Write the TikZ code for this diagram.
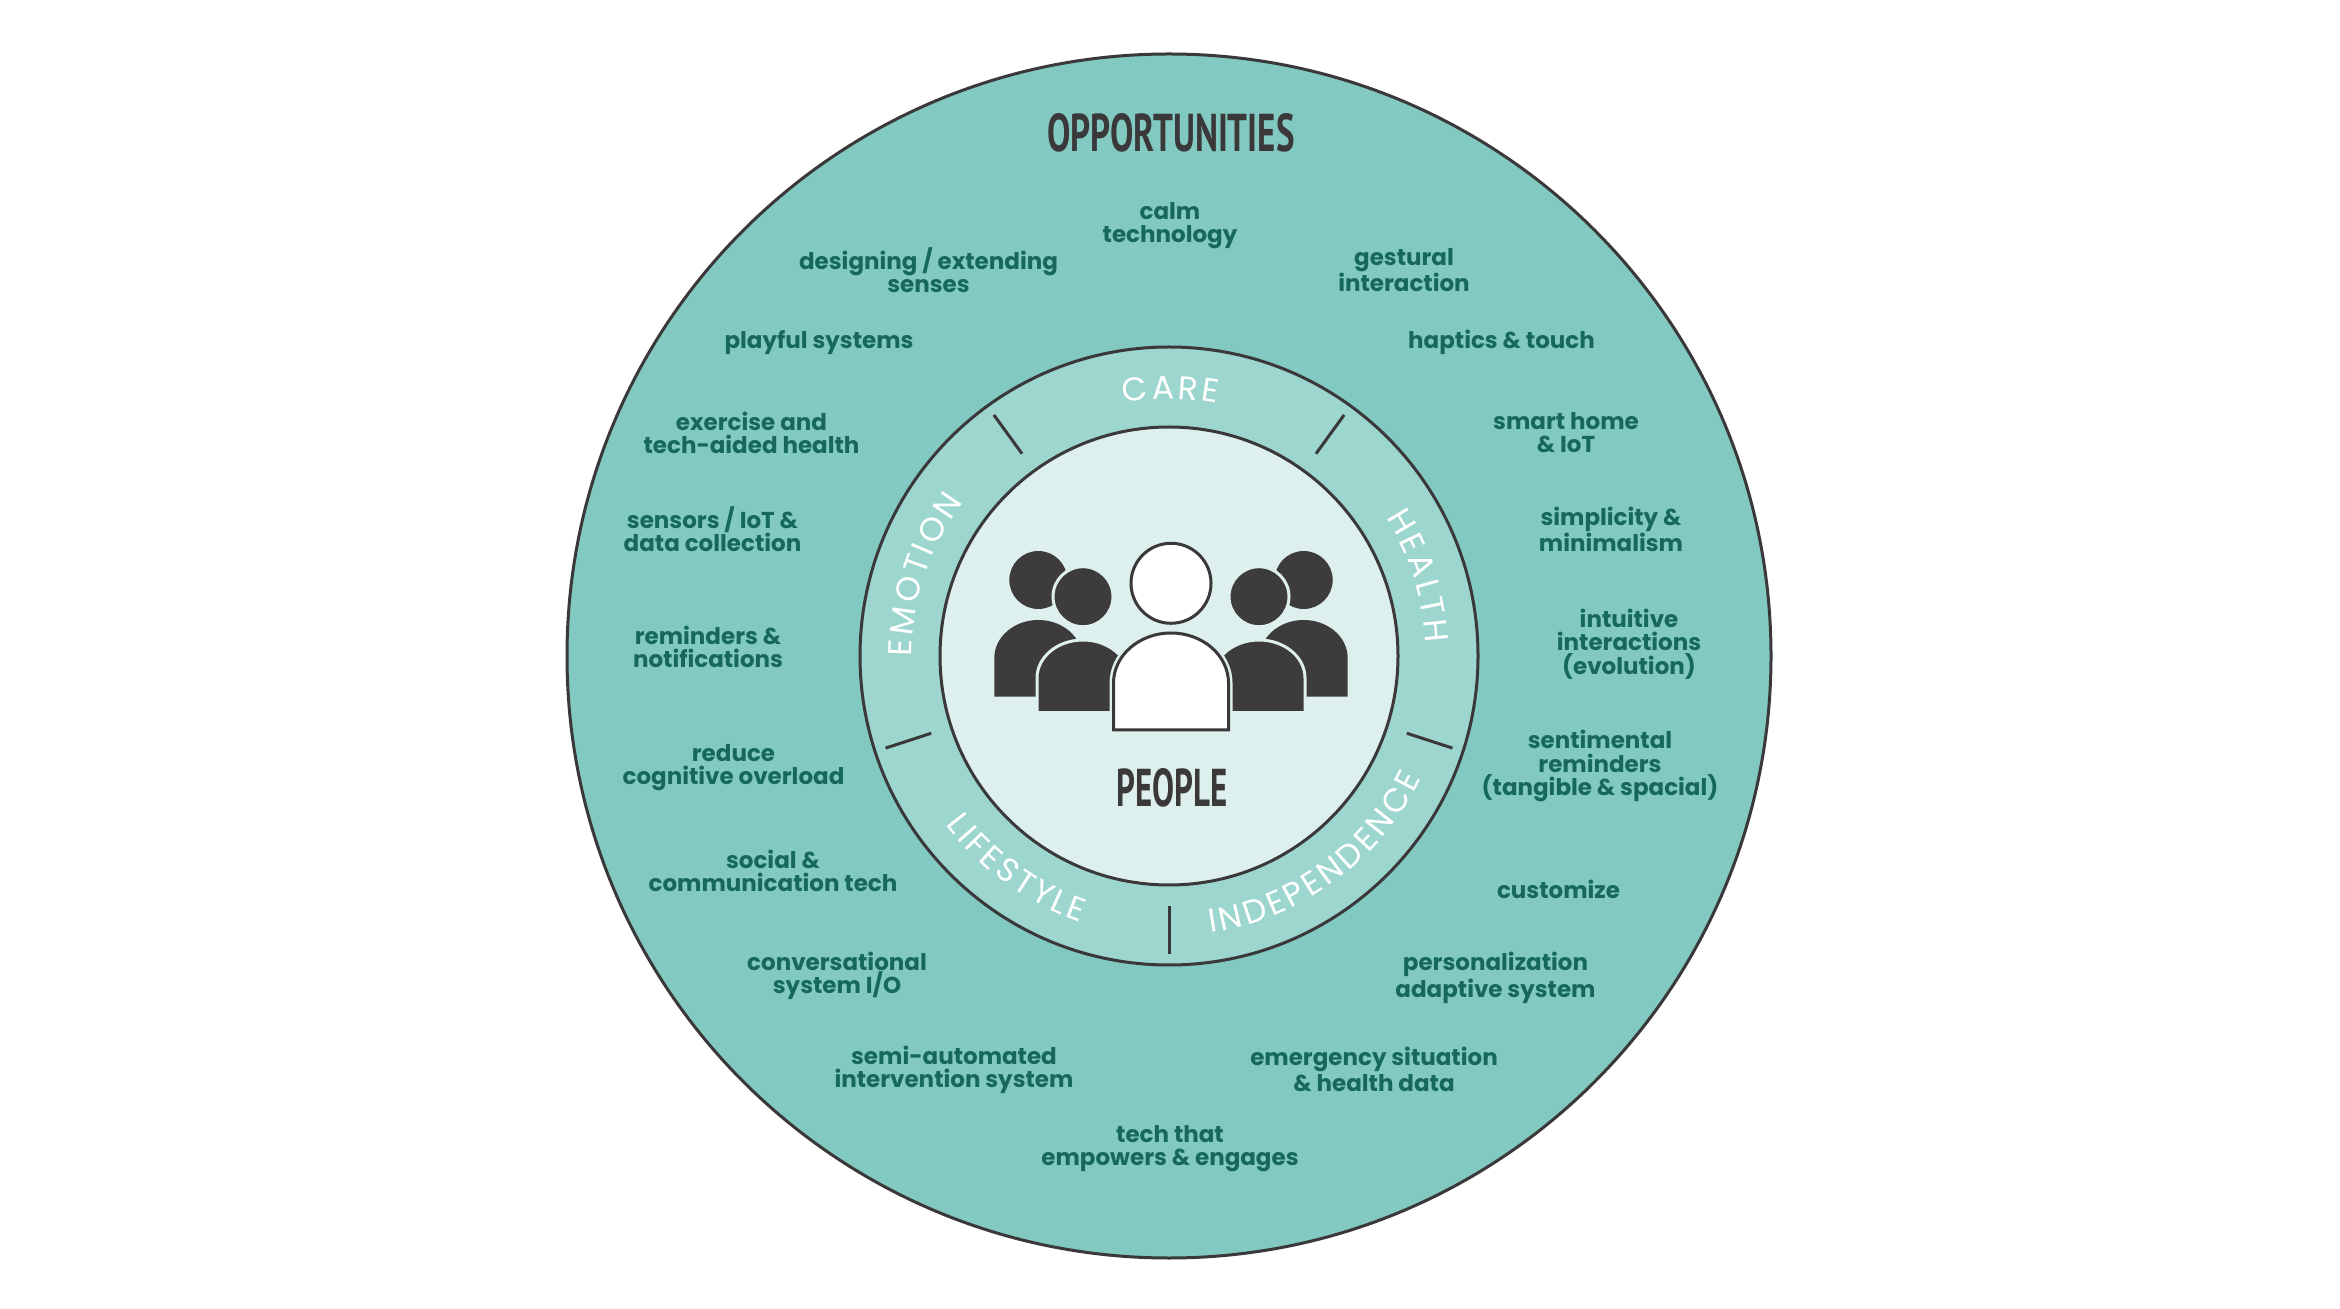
\documentclass[tikz,border=0pt]{standalone}
\usepackage{fontspec}
\usepackage{graphicx}
\usetikzlibrary{decorations.text}
\newfontfamily\labfont{Poppins}
\newfontfamily\ringfont{Poppins}
\newfontfamily\headfont{PT Sans}
\definecolor{outerfill}{RGB}{129,201,193}
\definecolor{ringfill}{RGB}{157,214,207}
\definecolor{innerfill}{RGB}{221,240,237}
\definecolor{linec}{RGB}{58,56,57}
\definecolor{labc}{RGB}{22,105,90}
\definecolor{figdark}{RGB}{61,59,60}
\newcommand\ringfmt{\ringfont\fontsize{16.5}{16.5}\selectfont\kern1.6pt}
\newcommand\bodypath[5]{(#1-#2,#5) -- (#1-#2,#3-#4) arc[start angle=180,end angle=0,x radius=#2,y radius=#4] -- (#1+#2,#5) -- cycle}
\begin{document}
\begin{tikzpicture}[x=0.5pt,y=0.5pt,
  lab/.style={font=\labfont\bfseries\fontsize{11.5}{11.6}\selectfont, text=labc, align=center, inner sep=0pt},
  ringtext/.style={decorate, decoration={text along path, text align=center, text color=white}},
  sepline/.style={draw=linec, line width=1.5pt},
  circ/.style={draw=linec, line width=1.5pt},
]
\useasboundingbox (0,0) rectangle (2340,1308);
\fill[white] (0,0) rectangle (2340,1308);
\begin{scope}[shift={(1169,652)}]
  \filldraw[circ, fill=outerfill] (0,0) circle[radius=602];
  \filldraw[circ, fill=ringfill] (0,0) circle[radius=309];
  \filldraw[circ, fill=innerfill] (0,0) circle[radius=229];
  \foreach \a in {54,126,198,270,342} \draw[sepline] (\a:250) -- (\a:298);
  % ring labels
  \path[ringtext, decoration={text={|\ringfmt|CARE}}] (126:257) arc[start angle=126, end angle=54, radius=257];
  \path[ringtext, decoration={text={|\ringfmt|HEALTH}}] (54:257) arc[start angle=54, end angle=-18, radius=257];
  \path[ringtext, decoration={text={|\ringfmt|EMOTION}}] (198:257) arc[start angle=198, end angle=126, radius=257];
  \path[ringtext, decoration={text={|\ringfmt|LIFESTYLE}}] (198:280) arc[start angle=198, end angle=270, radius=280];
  \path[ringtext, decoration={text={|\ringfmt|INDEPENDENCE}}] (270:280) arc[start angle=270, end angle=342, radius=280];
  % people icon
  \begin{scope}[shift={(2,0)}]
    \foreach \s in {-1,1} {
      \fill[figdark] \bodypath{\s*132.7}{44}{36}{38}{-40.7};
      \fill[figdark] (\s*132.7,76) circle[radius=29];
    }
    \foreach \s in {-1,1} {
      \filldraw[fill=figdark, draw=innerfill, line width=1.5pt] \bodypath{\s*88}{46}{16}{38}{-56.7};
      \filldraw[fill=figdark, draw=innerfill, line width=1.5pt] (\s*88,59.3) circle[radius=30];
    }
    \draw[innerfill, line width=4pt] \bodypath{0}{57.5}{23}{50}{-74};
    \filldraw[fill=white, draw=linec, line width=1.5pt] \bodypath{0}{57.5}{23}{50}{-74};
    \draw[innerfill, line width=4pt] (0,72.7) circle[radius=40];
    \filldraw[fill=white, draw=linec, line width=1.5pt] (0,72.7) circle[radius=40];
  \end{scope}
  \node[inner sep=0pt, text=linec] (people) at (3,-131.5) {\resizebox{55.5pt}{19pt}{\headfont\bfseries PEOPLE}};
  \node[inner sep=0pt, text=linec] (opp) at (2,523) {\resizebox{123.5pt}{19pt}{\headfont\bfseries OPPORTUNITIES}};
  % outer labels
  \node[lab] (calm) at (1,430) {calm\\technology};
  \node[lab] (design) at (-240.5,386) {designing / extending\\senses};
  \node[lab] (gest) at (235,386) {gestural\\interaction};
  \node[lab] (play) at (-350,313.5) {playful systems};
  \node[lab] (hapt) at (332.5,313.5) {haptics \& touch};
  \node[lab] (exer) at (-417.5,223) {exercise and\\tech-aided health};
  \node[lab] (smart) at (397,223) {smart home\\\& IoT};
  \node[lab] (sens) at (-456.5,126.5) {sensors / IoT \&\\data collection};
  \node[lab] (simp) at (442,126.5) {simplicity \&\\minimalism};
  \node[lab] (remi) at (-461,9.5) {reminders \&\\notifications};
  \node[lab] (intu) at (460,12) {intuitive\\interactions\\(evolution)};
  \node[lab] (redu) at (-435.5,-112) {reduce\\cognitive overload};
  \node[lab] (sent) at (431,-110) {sentimental\\reminders\\(tangible \& spacial)};
  \node[lab] (soci) at (-396,-215) {social \&\\communication tech};
  \node[lab] (cust) at (389.5,-233.5) {customize};
  \node[lab] (conv) at (-332,-320) {conversational\\system I/O};
  \node[lab] (pers) at (326.5,-322) {personalization\\adaptive system};
  \node[lab] (semi) at (-215,-413.5) {semi-automated\\intervention system};
  \node[lab] (emer) at (205,-413.5) {emergency situation\\\& health data};
  \node[lab] (tech) at (1,-492.5) {tech that\\empowers \& engages};
\end{scope}
\end{tikzpicture}
\end{document}
